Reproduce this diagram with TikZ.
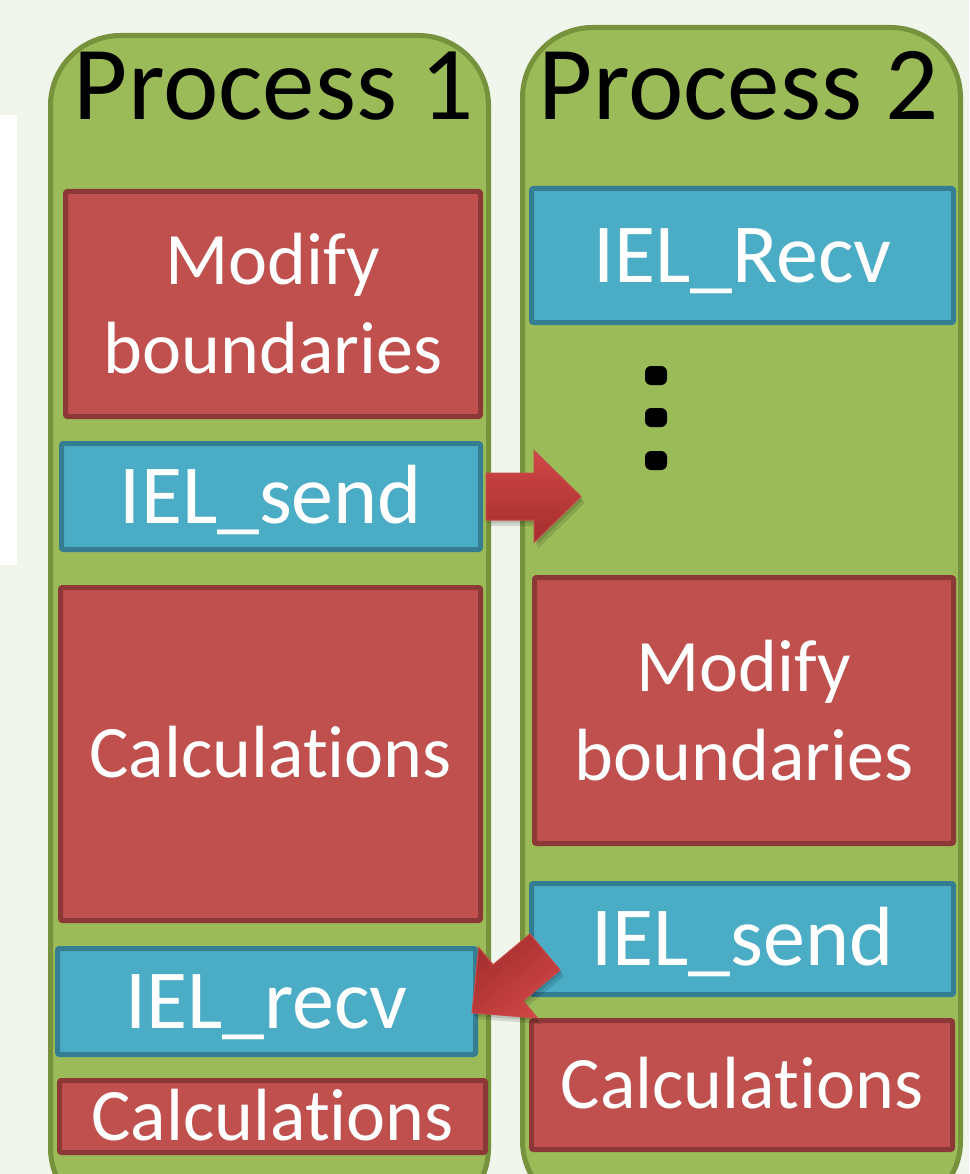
\documentclass[tikz,border=0pt]{standalone}
\usepackage{fontspec}
\setmainfont{Carlito}[Ligatures=NoCommon]
\usetikzlibrary{calc}

\definecolor{pagebg}{HTML}{F1F6EC}
\definecolor{procfill}{HTML}{9BBB59}
\definecolor{procline}{HTML}{76923C}
\definecolor{redfill}{HTML}{C0504D}
\definecolor{redline}{HTML}{8C3836}
\definecolor{bluefill}{HTML}{4BACC6}
\definecolor{blueline}{HTML}{357D91}
\definecolor{arrowtop}{HTML}{D24747}
\definecolor{arrowbot}{HTML}{A32D2D}
\definecolor{arrowedge}{HTML}{C94848}

% block arrow outline, pointing along +x, tail at the origin
\newcommand\blockarrowpath{(0,-23.5) -- (48,-23.5) -- (48,-46) -- (95,0) -- (48,46) -- (48,23.5) -- (0,23.5) -- cycle}

\begin{document}
\begin{tikzpicture}[x=1pt, y=-1pt,
  proc/.style={draw=procline, fill=procfill, line width=5pt, rounded corners=70pt},
  task/.style={rectangle, line width=5pt, rounded corners=2pt, text=white,
    align=center, inner sep=0pt},
  calcbox/.style={task, draw=redline, fill=redfill},
  commbox/.style={task, draw=blueline, fill=bluefill},
  commtext/.style={font=\fontsize{84}{101}\selectfont, text height=53pt, text depth=0pt},
  calctext/.style={font=\fontsize{74}{89}\selectfont, text height=47pt, text depth=0pt},
  modtext/.style={font=\fontsize{74}{89}\selectfont},
  title/.style={anchor=base, text=black, inner sep=0pt, font=\fontsize{105}{126}\selectfont},
  arrowbody/.style={top color=arrowtop, bottom color=arrowbot, draw=arrowedge, line width=1pt},
  arrowshadow/.style={fill=black, opacity=0.12},
  dot/.style={fill=black, rounded corners=6pt}
]
\useasboundingbox (0,0) rectangle (969,1174);
\clip (0,0) rectangle (969,1174);
\fill[pagebg] (0,0) rectangle (969,1174);
\fill[white] (0,115) rectangle (17,565);

% the two process lanes
\draw[proc] (50.5,35.5) rectangle (488.5,1218);
\draw[proc] (522.5,27.5) rectangle (960.5,1211);

\node[title] (title1) at (274,120) {Process 1};
\node[title] (title2) at (739,120) {Process 2};

% process 1
\node[calcbox, modtext, minimum width=415pt, minimum height=225pt] (mod1) at (273,304) {Modify\\boundaries};
\node[commbox, commtext, minimum width=419pt, minimum height=106pt] (send1) at (271,496.5) {IEL\_send};
\node[calcbox, calctext, minimum width=420pt, minimum height=333pt] (calc1) at (270.5,754) {Calculations};
\node[commbox, commtext, minimum width=418pt, minimum height=106pt] (recv1) at (266.5,1001.5) {IEL\_recv};
\node[calcbox, calctext, minimum width=426pt, minimum height=72pt] (calc1b) at (272.5,1116.5) {Calculations};

% process 2
\node[commbox, commtext, minimum width=422pt, minimum height=134pt] (recv2) at (742.5,255.5) {IEL\_Recv};
\node[calcbox, modtext, minimum width=419pt, minimum height=266pt] (mod2) at (744,710.5) {Modify\\boundaries};
\node[commbox, commtext, minimum width=422pt, minimum height=111pt] (send2) at (742.5,939) {IEL\_send};
\node[calcbox, calctext, minimum width=421pt, minimum height=129pt] (calc2) at (742,1085) {Calculations};

% vertical ellipsis between receive and modify
\fill[dot] (645,366) rectangle (667,385);
\fill[dot] (645,408) rectangle (667,427);
\fill[dot] (645,451) rectangle (667,470);

% message arrows
\coordinate (tail1) at ([xshift=3pt]send1.east);
\coordinate (tail2) at ([xshift=16pt,yshift=-13pt]send2.west);

\foreach \dx/\dy in {2/3,4/6}{
  \fill[arrowshadow, transform canvas={shift={($(tail1)+(\dx,\dy)$)}}] \blockarrowpath;
  \fill[arrowshadow, transform canvas={shift={($(tail2)+(\dx,\dy)$)}, rotate=219.8}] \blockarrowpath;
}
\path[arrowbody, transform canvas={shift={(tail1)}}] \blockarrowpath;
\path[arrowbody, transform canvas={shift={(tail2)}, rotate=219.8}] \blockarrowpath;
\end{tikzpicture}
\end{document}
